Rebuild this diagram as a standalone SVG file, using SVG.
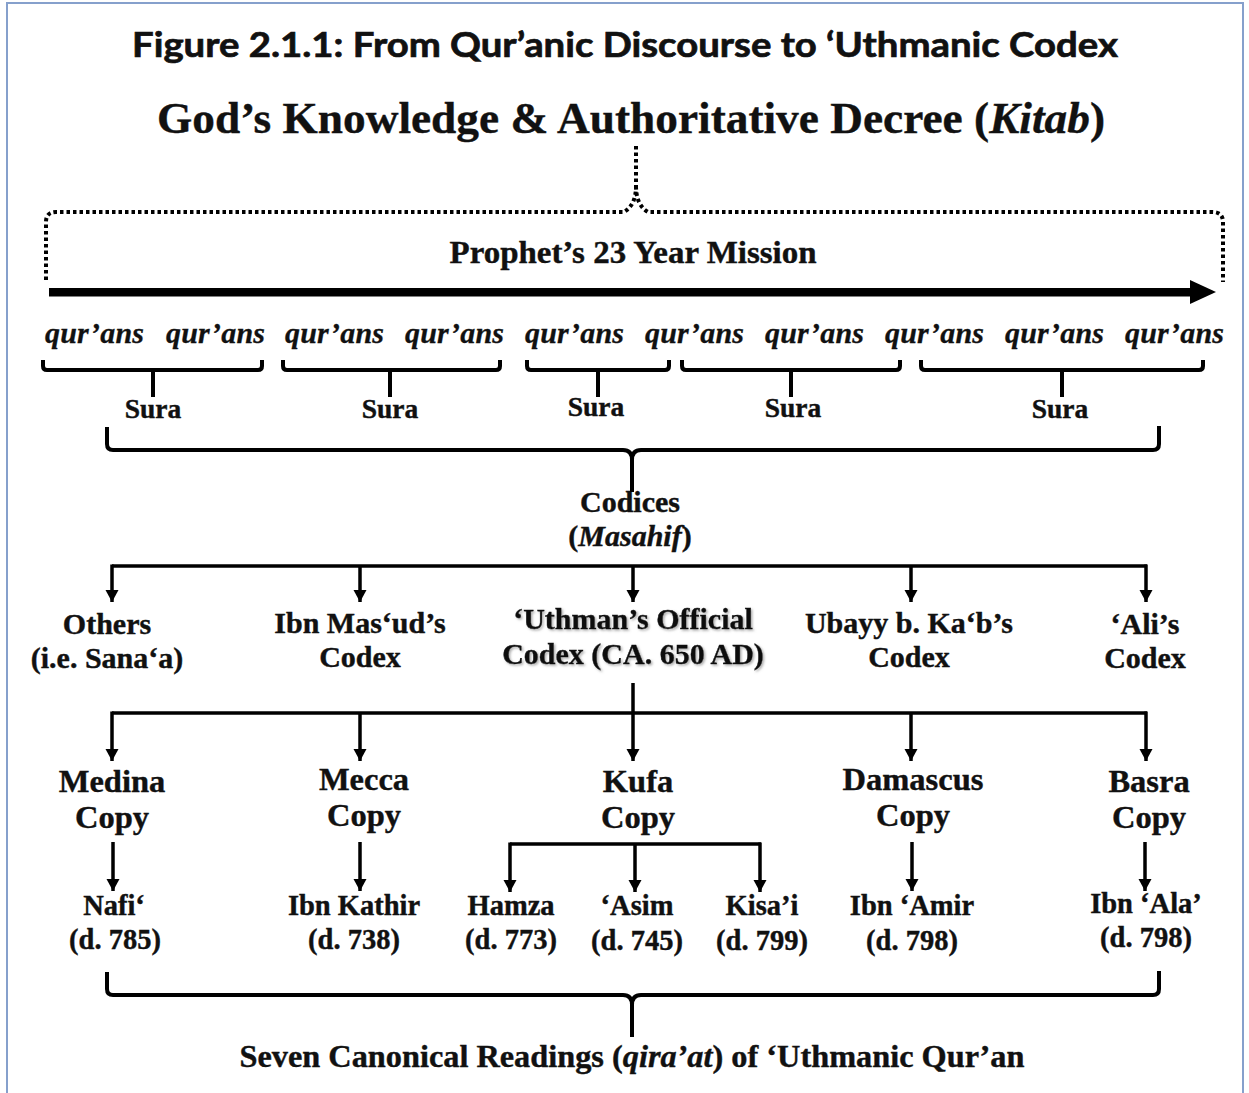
<svg xmlns="http://www.w3.org/2000/svg" width="1249" height="1093" viewBox="0 0 1249 1093">
  <defs>
    <marker id="arrow" markerUnits="userSpaceOnUse" markerWidth="14" markerHeight="14" refX="12" refY="7" orient="auto">
      <path d="M0,0.5 L12,7 L0,13.5 Z" fill="#000"/>
    </marker>
    <filter id="shadow" x="-10%" y="-30%" width="120%" height="160%">
      <feDropShadow dx="1.5" dy="1.5" stdDeviation="1" flood-color="#777" flood-opacity="0.6"/>
    </filter>
    <style>
      .title { font-family: Lato, "Liberation Sans", sans-serif; font-weight: 700; font-size: 35px; fill: #111; stroke: #111; stroke-width: 0.7px; }
      .serif { font-family: "Liberation Serif", "DejaVu Serif", serif; font-weight: 700; fill: #111; stroke: #111; stroke-width: 0.4px; text-anchor: middle; }
      .qur { font-family: "Liberation Serif", serif; font-weight: 700; font-style: italic; font-size: 30px; fill: #111; stroke: #111; stroke-width: 0.3px; }
      .brace { fill: none; stroke: #000; stroke-width: 4; stroke-linejoin: round; }
      .dots { fill: none; stroke: #000; stroke-width: 4; stroke-dasharray: 3.5 3; }
      .conn { fill: none; stroke: #000; stroke-width: 3.5; }
      .arr { fill: none; stroke: #000; stroke-width: 3.5; marker-end: url(#arrow); }
      .s27 { font-size: 27.5px; }
      .s28 { font-size: 28.5px; }
      .s30 { font-size: 30px; }
      .s32 { font-size: 32.5px; }
      .it { font-style: italic; }
    </style>
  </defs>

  <rect width="1249" height="1093" fill="#fff"/>
  <!-- page frame -->
  <rect x="7" y="3" width="1236" height="1100" fill="none" stroke="#86a0cc" stroke-width="2"/>

  <!-- headings -->
  <g id="title">
    <text class="title" x="132" y="57" textLength="986" lengthAdjust="spacingAndGlyphs">Figure 2.1.1: From Qur’anic Discourse to ‘Uthmanic Codex</text>
  </g>
  <g id="kitab">
    <text class="serif" x="631" y="133" font-size="45" textLength="948" lengthAdjust="spacingAndGlyphs">God’s Knowledge &amp; Authoritative Decree (<tspan class="it">Kitab</tspan>)</text>
  </g>

  <!-- mission timeline -->
  <g id="mission">
    <path class="dots" d="M636,146 V186 Q636,205 624,212 H56 Q46,212 46,222 V282"/>
    <path class="dots" d="M636,186 Q636,205 648,212 H1212 Q1223,212 1223,222 V282"/>
    <text class="serif" x="633" y="263" font-size="32" textLength="367" lengthAdjust="spacingAndGlyphs">Prophet’s 23 Year Mission</text>
    <rect x="49" y="288" width="1144" height="8.5" fill="#000"/>
    <path d="M1190,280 L1216,292 L1190,304 Z" fill="#000"/>
  </g>

  <!-- qur'ans -->
  <g id="qurans">
    <text class="qur" x="45" y="343" textLength="99">qur’ans</text>
    <text class="qur" x="166" y="343" textLength="99">qur’ans</text>
    <text class="qur" x="285" y="343" textLength="99">qur’ans</text>
    <text class="qur" x="405" y="343" textLength="99">qur’ans</text>
    <text class="qur" x="525" y="343" textLength="99">qur’ans</text>
    <text class="qur" x="645" y="343" textLength="99">qur’ans</text>
    <text class="qur" x="765" y="343" textLength="99">qur’ans</text>
    <text class="qur" x="885" y="343" textLength="99">qur’ans</text>
    <text class="qur" x="1005" y="343" textLength="99">qur’ans</text>
    <text class="qur" x="1125" y="343" textLength="99">qur’ans</text>
  </g>

  <!-- sura groups -->
  <g id="sura-1"><text class="serif s27" x="153" y="418">Sura</text></g>
  <g id="sura-2"><text class="serif s27" x="390" y="418">Sura</text></g>
  <g id="sura-3"><text class="serif s27" x="596" y="416">Sura</text></g>
  <g id="sura-4"><text class="serif s27" x="793" y="417">Sura</text></g>
  <g id="sura-5"><text class="serif s27" x="1060" y="418">Sura</text></g>

  <g id="codices">
    <text class="serif s30" x="630" y="512">Codices</text>
    <text class="serif s30" x="630" y="546">(<tspan class="it">Masahif</tspan>)</text>
  </g>

  <!-- codex row -->
  <g id="others"><text class="serif s30" x="107" y="634">Others</text><text class="serif s30" x="107" y="668">(i.e. Sana‘a)</text></g>
  <g id="ibn-masud"><text class="serif s30" x="360" y="633">Ibn Mas‘ud’s</text><text class="serif s30" x="360" y="667">Codex</text></g>
  <g id="uthman" filter="url(#shadow)"><text class="serif s30" x="633" y="629">‘Uthman’s Official</text><text class="serif s30" x="633" y="664">Codex (CA. 650 AD)</text></g>
  <g id="ubayy"><text class="serif s30" x="909" y="633">Ubayy b. Ka‘b’s</text><text class="serif s30" x="909" y="667">Codex</text></g>
  <g id="ali"><text class="serif s30" x="1145" y="634">‘Ali’s</text><text class="serif s30" x="1145" y="668">Codex</text></g>

  <!-- regional copies -->
  <g id="medina"><text class="serif s32" x="112" y="792">Medina</text><text class="serif s32" x="112" y="828">Copy</text></g>
  <g id="mecca"><text class="serif s32" x="364" y="790">Mecca</text><text class="serif s32" x="364" y="826">Copy</text></g>
  <g id="kufa"><text class="serif s32" x="638" y="792">Kufa</text><text class="serif s32" x="638" y="828">Copy</text></g>
  <g id="damascus"><text class="serif s32" x="913" y="790">Damascus</text><text class="serif s32" x="913" y="826">Copy</text></g>
  <g id="basra"><text class="serif s32" x="1149" y="792">Basra</text><text class="serif s32" x="1149" y="828">Copy</text></g>

  <!-- readers -->
  <g id="nafi"><text class="serif s28" x="114" y="915">Nafi‘</text><text class="serif s28" x="115" y="949">(d. 785)</text></g>
  <g id="ibn-kathir"><text class="serif s28" x="354" y="915">Ibn Kathir</text><text class="serif s28" x="354" y="949">(d. 738)</text></g>
  <g id="hamza"><text class="serif s28" x="511" y="915">Hamza</text><text class="serif s28" x="511" y="949">(d. 773)</text></g>
  <g id="asim"><text class="serif s28" x="637" y="915">‘Asim</text><text class="serif s28" x="637" y="950">(d. 745)</text></g>
  <g id="kisai"><text class="serif s28" x="762" y="915">Kisa’i</text><text class="serif s28" x="762" y="950">(d. 799)</text></g>
  <g id="ibn-amir"><text class="serif s28" x="912" y="915">Ibn ‘Amir</text><text class="serif s28" x="912" y="950">(d. 798)</text></g>
  <g id="ibn-ala"><text class="serif s28" x="1146" y="913">Ibn ‘Ala’</text><text class="serif s28" x="1146" y="947">(d. 798)</text></g>

  <g id="readings">
    <text class="serif" x="632" y="1067" font-size="31" textLength="785" lengthAdjust="spacingAndGlyphs">Seven Canonical Readings (<tspan class="it">qira’at</tspan>) of ‘Uthmanic Qur’an</text>
  </g>

  <!-- connectors -->
  <g id="connectors">
    <!-- qur'ans into suras -->
    <path class="brace" d="M43,360 V366 Q43,370 47,370 H258 Q262,370 262,366 V360 M153,370 V397"/>
    <path class="brace" d="M283,360 V366 Q283,370 287,370 H496 Q500,370 500,366 V360 M390,370 V397"/>
    <path class="brace" d="M527,360 V366 Q527,370 531,370 H665 Q669,370 669,366 V360 M598,370 V397"/>
    <path class="brace" d="M682,360 V366 Q682,370 686,370 H896 Q900,370 900,366 V360 M791,370 V397"/>
    <path class="brace" d="M921,360 V366 Q921,370 925,370 H1199 Q1203,370 1203,366 V360 M1062,370 V397"/>
    <!-- suras into codices -->
    <path class="brace" d="M107,427 V444 Q107,450 113,450 H623 Q632,450 632,460 V492 M632,460 Q632,450 641,450 H1153 Q1159,450 1159,444 V426"/>
    <!-- codices to individual codices -->
    <path class="conn" d="M112,566 H1147"/>
    <path class="arr" d="M112,564.5 V602"/>
    <path class="arr" d="M360,566 V602"/>
    <path class="arr" d="M633,566 V602"/>
    <path class="arr" d="M911,566 V602"/>
    <path class="arr" d="M1146,564.5 V602"/>
    <!-- official codex to regional copies -->
    <path class="conn" d="M633,683 V713"/>
    <path class="conn" d="M112,713 H1147"/>
    <path class="arr" d="M112,711.5 V761"/>
    <path class="arr" d="M360,713 V761"/>
    <path class="arr" d="M633,713 V761"/>
    <path class="arr" d="M911,713 V761"/>
    <path class="arr" d="M1146,711.5 V761"/>
    <!-- copies to readers -->
    <path class="arr" d="M113,842 V891"/>
    <path class="arr" d="M360,842 V891"/>
    <path class="conn" d="M510,844 H761"/>
    <path class="arr" d="M510,842.5 V892"/>
    <path class="arr" d="M635,844 V892"/>
    <path class="arr" d="M760,842.5 V892"/>
    <path class="arr" d="M912,842 V891"/>
    <path class="arr" d="M1145,842 V891"/>
    <!-- readers into canonical readings -->
    <path class="brace" d="M107,972 V989 Q107,995 113,995 H623 Q632,995 632,1005 V1037 M632,1005 Q632,995 641,995 H1153 Q1159,995 1159,989 V971"/>
  </g>
</svg>
